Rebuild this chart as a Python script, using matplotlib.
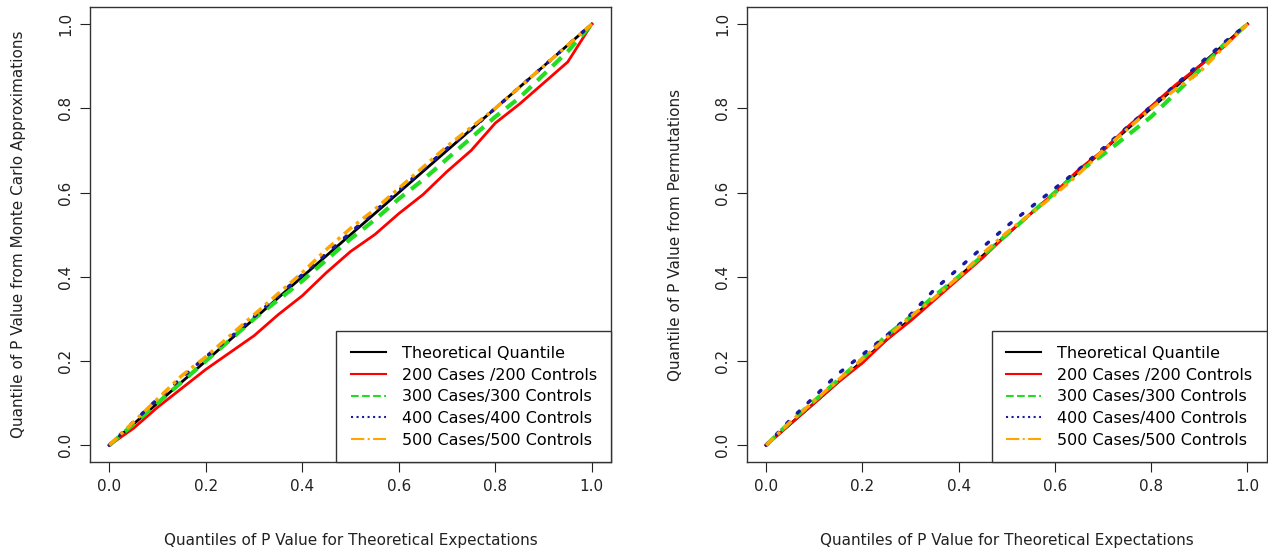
import matplotlib
matplotlib.use("Agg")
import matplotlib.pyplot as plt
from matplotlib.lines import Line2D

# quantiles of p value for theoretical expectations
x_q = [0.0, 0.05, 0.10, 0.15, 0.20, 0.25, 0.30, 0.35, 0.40, 0.45, 0.50,
       0.55, 0.60, 0.65, 0.70, 0.75, 0.80, 0.85, 0.90, 0.95, 1.0]

# left panel: Monte Carlo approximations
mc_200 = [0.0, 0.04, 0.09, 0.135, 0.18, 0.22, 0.26, 0.31, 0.355, 0.41, 0.46,
          0.50, 0.55, 0.595, 0.65, 0.70, 0.765, 0.81, 0.86, 0.91, 1.0]
mc_300 = [0.0, 0.05, 0.10, 0.15, 0.20, 0.25, 0.30, 0.345, 0.39, 0.44, 0.49,
          0.535, 0.585, 0.63, 0.68, 0.73, 0.78, 0.825, 0.88, 0.935, 1.0]
mc_400 = [0.0, 0.055, 0.11, 0.16, 0.21, 0.255, 0.305, 0.355, 0.405, 0.455, 0.505,
          0.555, 0.605, 0.655, 0.705, 0.75, 0.80, 0.85, 0.90, 0.95, 1.0]
mc_500 = [0.0, 0.055, 0.11, 0.165, 0.21, 0.26, 0.31, 0.36, 0.41, 0.465, 0.515,
          0.56, 0.61, 0.66, 0.71, 0.755, 0.80, 0.85, 0.90, 0.95, 1.0]

# right panel: permutations
pm_200 = [0.0, 0.05, 0.10, 0.15, 0.195, 0.25, 0.295, 0.345, 0.395, 0.445, 0.50,
          0.55, 0.60, 0.655, 0.70, 0.755, 0.805, 0.855, 0.90, 0.945, 1.0]
pm_300 = [0.0, 0.055, 0.105, 0.155, 0.205, 0.26, 0.305, 0.355, 0.40, 0.45, 0.50,
          0.55, 0.60, 0.65, 0.69, 0.735, 0.78, 0.835, 0.89, 0.95, 1.0]
pm_400 = [0.0, 0.06, 0.115, 0.17, 0.215, 0.26, 0.31, 0.37, 0.42, 0.47, 0.52,
          0.565, 0.61, 0.655, 0.705, 0.755, 0.805, 0.855, 0.905, 0.955, 1.0]
pm_500 = [0.0, 0.055, 0.105, 0.155, 0.205, 0.255, 0.305, 0.35, 0.40, 0.455, 0.505,
          0.55, 0.595, 0.645, 0.70, 0.75, 0.80, 0.845, 0.885, 0.945, 1.0]

labels = ["Theoretical Quantile", "200 Cases /200 Controls", "300 Cases/300 Controls",
          "400 Cases/400 Controls", "500 Cases/500 Controls"]
colors = ["black", "red", "#22dd22", "#1a1aa0", "orange"]
styles = ["-", "-", "--", ":", "-."]
widths = [2, 2, 3, 2.5, 2.5]

xlabel = "Quantiles of P Value for Theoretical Expectations"
ylabels = ["Quantile of P Value from Monte Carlo Approximations",
           "Quantile of P Value from Permutations"]

plt.rcParams["font.family"] = "DejaVu Sans"

fig = plt.figure(figsize=(12.68, 5.54), dpi=100)
ax1 = fig.add_axes([0.071, 0.166, 0.411, 0.821])
ax2 = fig.add_axes([0.589, 0.166, 0.410, 0.821])

panels = [(ax1, [mc_200, mc_300, mc_400, mc_500], ylabels[0]),
          (ax2, [pm_200, pm_300, pm_400, pm_500], ylabels[1])]

for ax, series, ylab in panels:
    all_y = [x_q] + series
    for i, yv in enumerate(all_y):
        if styles[i] == "--":
            ax.plot(x_q, yv, color=colors[i], lw=widths[i], dashes=(3, 2))
        elif styles[i] == ":":
            ax.plot(x_q, yv, color=colors[i], lw=widths[i], dashes=(0.8, 3.5),
                    dash_capstyle="round")
        elif styles[i] == "-.":
            ax.plot(x_q, yv, color=colors[i], lw=widths[i], dashes=(3, 1.5, 1, 1.5))
        else:
            ax.plot(x_q, yv, color=colors[i], lw=widths[i])
    ax.set_xlim(-0.04, 1.04)
    ax.set_ylim(-0.04, 1.04)
    ax.set_xticks([0.0, 0.2, 0.4, 0.6, 0.8, 1.0])
    ax.set_yticks([0.0, 0.2, 0.4, 0.6, 0.8, 1.0])
    ax.set_xticklabels(["0.0", "0.2", "0.4", "0.6", "0.8", "1.0"])
    ax.set_yticklabels(["0.0", "0.2", "0.4", "0.6", "0.8", "1.0"], rotation=90, va="center")
    ax.tick_params(length=7, labelsize=11, colors="#222222", pad=5)
    ax.set_xlabel(xlabel, fontsize=11, labelpad=28, color="#222222")
    ax.set_ylabel(ylab, fontsize=11, labelpad=23, color="#222222")
    for s in ax.spines.values():
        s.set_color("#333333")
        s.set_linewidth(1)

    handles = [Line2D([], [], color=colors[i], lw=1.5,
                      linestyle=styles[i]) for i in range(5)]
    leg = ax.legend(handles, labels, loc="lower right", borderaxespad=0,
                    fancybox=False, edgecolor="#333333", framealpha=1,
                    fontsize=11.5, handlelength=2.2, labelspacing=0.42,
                    borderpad=0.9, handletextpad=1.0)
    leg.get_frame().set_linewidth(1)

fig.savefig("out.png", dpi=100)
